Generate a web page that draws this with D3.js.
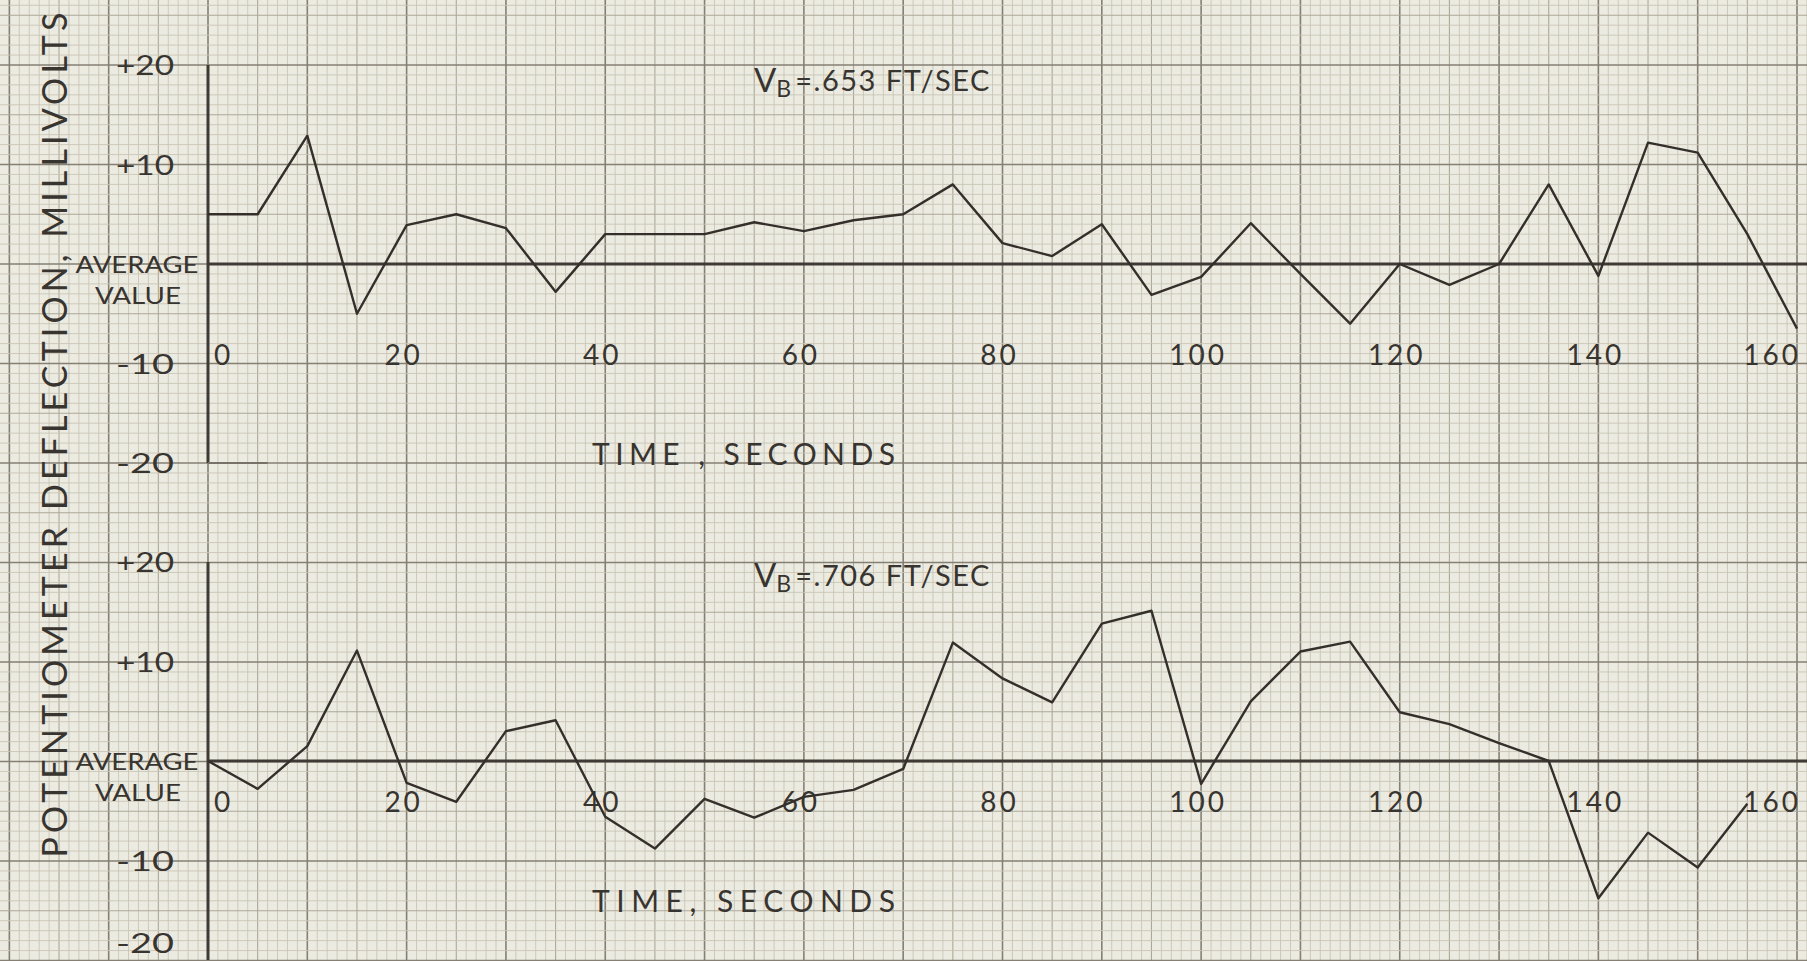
<!DOCTYPE html>
<html>
<head>
<meta charset="utf-8">
<script src="https://cdn.jsdelivr.net/npm/d3@7"></script>
<style>
  html, body { margin: 0; padding: 0; background: #ecebe1; overflow: hidden; }
  svg { display: block; }
  text { font-family: Lato, "DejaVu Sans", sans-serif; font-weight: 400; fill: #38342f; }
</style>
</head>
<body>
<div id="container"></div>
<script>
/* CONSTANTS AND GLOBALS */
const width = 1807,
  height = 961;

// time in seconds, one reading every 5 s
const topTime = [0, 5, 10, 15, 20, 25, 30, 35, 40, 45, 50, 55, 60, 65, 70, 75, 80,
  85, 90, 95, 100, 105, 110, 115, 120, 125, 130, 135, 140, 145, 150, 155, 160];
// V_B = .653 ft/sec, millivolts about the average value
const topValues = [5, 5, 12.9, -5, 3.9, 5, 3.6, -2.8, 3, 3, 3, 4.2, 3.3, 4.4, 5, 8, 2.1,
  0.8, 4, -3.1, -1.3, 4.1, -1, -6, 0, -2.1, 0, 8, -1.2, 12.2, 11.2, 3, -6.5];

const bottomTime = [0, 5, 10, 15, 20, 25, 30, 35, 40, 45, 50, 55, 60, 65, 70, 75, 80,
  85, 90, 95, 100, 105, 110, 115, 120, 125, 130, 135, 140, 145, 150, 155];
// V_B = .706 ft/sec
const bottomValues = [0, -2.8, 1.5, 11.1, -2.2, -4.1, 3, 4.1, -5.6, -8.8, -3.8, -5.7, -3.6, -2.9, -0.8, 11.9, 8.3,
  5.9, 13.8, 15.1, -2.3, 6, 11, 12, 4.9, 3.7, 1.8, 0, -13.8, -7.2, -10.7, -4.3];

const xTicks = [0, 20, 40, 60, 80, 100, 120, 140, 160];
const yTicks = [20, 10, -10, -20];
const yTickLabels = ["+20", "+10", "-10", "-20"];
const speeds = [".653", ".706"];

let svg, xScale, yTop, yBottom;

init();

function init() {
  svg = d3.select("#container")
    .append("svg")
    .attr("width", width)
    .attr("height", height);

  /* SCALES */
  xScale = d3.scaleLinear().domain([0, 160]).range([208, 1797]);
  yTop = d3.scaleLinear().domain([-20, 20]).range([463, 65]);
  yBottom = d3.scaleLinear().domain([-20, 20]).range([960, 562]);

  drawPaper();
  drawPanel(yTop, topTime, topValues, speeds[0], { tickY: -9, timeY: -19, titleY: 18.6, short: true });
  drawPanel(yBottom, bottomTime, bottomValues, speeds[1], { tickY: -4, timeY: -14, titleY: 18.8, short: false });

  // shared rotated label
  svg.append("text")
    .attr("transform", `translate(53, ${yTop(-17.2)}) rotate(-90)`)
    .attr("text-anchor", "middle")
    .attr("dominant-baseline", "central")
    .attr("font-size", 34)
    .attr("textLength", 845)
    .attr("lengthAdjust", "spacing")
    .text("POTENTIOMETER DEFLECTION, MILLIVOLTS");
}

/* graph paper: 1 unit fine lines, 5 medium, 10 heavy */
function drawPaper() {
  const xs = d3.range(-21, 162);
  const ys = d3.range(-70, 28);
  const cls = v => (v % 10 === 0 ? "major" : v % 5 === 0 ? "mid" : "minor");
  const stroke = { minor: "#c9c5b5", mid: "#ada898", major: "#857f74" };
  const sw = { minor: 0.9, mid: 1.1, major: 1.6 };

  const g = svg.append("g");
  g.selectAll(".vgrid")
    .data(xs)
    .join("line")
    .attr("class", "vgrid")
    .attr("x1", d => xScale(d)).attr("x2", d => xScale(d))
    .attr("y1", 0).attr("y2", height)
    .attr("stroke", d => stroke[cls(d)])
    .attr("stroke-width", d => sw[cls(d)]);

  g.selectAll(".hgrid")
    .data(ys)
    .join("line")
    .attr("class", "hgrid")
    .attr("x1", 0).attr("x2", width)
    .attr("y1", d => yTop(d)).attr("y2", d => yTop(d))
    .attr("stroke", d => stroke[cls(d)])
    .attr("stroke-width", d => sw[cls(d)]);
}

function drawPanel(yScale, times, values, speed, opt) {
  const g = svg.append("g");

  // vertical axis
  g.append("line")
    .attr("x1", xScale(0)).attr("x2", xScale(0))
    .attr("y1", yScale(20)).attr("y2", Math.min(yScale(-20), height))
    .attr("stroke", "#3f3a35")
    .attr("stroke-width", 3);
  if (opt.short) {
    g.append("line")
      .attr("x1", xScale(0)).attr("x2", xScale(6))
      .attr("y1", yScale(-20)).attr("y2", yScale(-20))
      .attr("stroke", "#77716a")
      .attr("stroke-width", 1.8);
  }

  // average value line
  g.append("line")
    .attr("x1", xScale(0)).attr("x2", width)
    .attr("y1", yScale(0)).attr("y2", yScale(0))
    .attr("stroke", "#3f3a35")
    .attr("stroke-width", 2.8);

  // y tick labels
  g.selectAll(".ylab")
    .data(yTicks)
    .join("text")
    .attr("class", "ylab")
    .attr("x", 145)
    .attr("y", d => Math.min(yScale(d), height - 18))
    .attr("text-anchor", "middle")
    .attr("dominant-baseline", "central")
    .attr("font-size", 26)
    .attr("textLength", 58)
    .attr("lengthAdjust", "spacingAndGlyphs")
    .text((d, i) => yTickLabels[i]);

  g.append("text")
    .attr("x", 137).attr("y", yScale(0.1))
    .attr("text-anchor", "middle")
    .attr("dominant-baseline", "central")
    .attr("font-size", 24)
    .attr("textLength", 123)
    .attr("lengthAdjust", "spacingAndGlyphs")
    .text("AVERAGE");
  g.append("text")
    .attr("x", 138).attr("y", yScale(-3.1))
    .attr("text-anchor", "middle")
    .attr("dominant-baseline", "central")
    .attr("font-size", 24)
    .attr("textLength", 86)
    .attr("lengthAdjust", "spacingAndGlyphs")
    .text("VALUE");

  // x tick labels
  g.selectAll(".xlab")
    .data(xTicks)
    .join("text")
    .attr("class", "xlab")
    .attr("x", d => d === 0 ? xScale(d) + 6 : d === 160 ? xScale(d) + 4 : xScale(d) - 3)
    .attr("y", yScale(opt.tickY))
    .attr("text-anchor", d => d === 0 ? "start" : d === 160 ? "end" : "middle")
    .attr("dominant-baseline", "central")
    .attr("font-size", 28)
    .attr("letter-spacing", 3)
    .text(d => d);

  g.append("text")
    .attr("x", 592).attr("y", yScale(opt.timeY))
    .attr("dominant-baseline", "central")
    .attr("font-size", 30)
    .attr("textLength", 303)
    .attr("lengthAdjust", "spacing")
    .text(opt.short ? "TIME , SECONDS" : "TIME, SECONDS");

  // title V_B = ...
  const t = g.append("text")
    .attr("x", 754).attr("y", yScale(opt.titleY))
    .attr("dominant-baseline", "central")
    .attr("font-size", 29);
  t.append("tspan").attr("font-size", 33).text("V");
  t.append("tspan").attr("font-size", 23).attr("dy", 9).text("B");
  t.append("tspan").attr("dy", -9).attr("dx", 4).attr("letter-spacing", 1.5).text(`=${speed} FT/SEC`);

  // data line
  const pts = times.map((d, i) => [d, values[i]]);
  const line = d3.line()
    .x(d => xScale(d[0]))
    .y(d => yScale(d[1]));
  g.append("path")
    .datum(pts)
    .attr("d", line)
    .attr("fill", "none")
    .attr("stroke", "#342f2b")
    .attr("stroke-width", 2.4)
    .attr("stroke-linejoin", "round");
}
</script>
</body>
</html>
